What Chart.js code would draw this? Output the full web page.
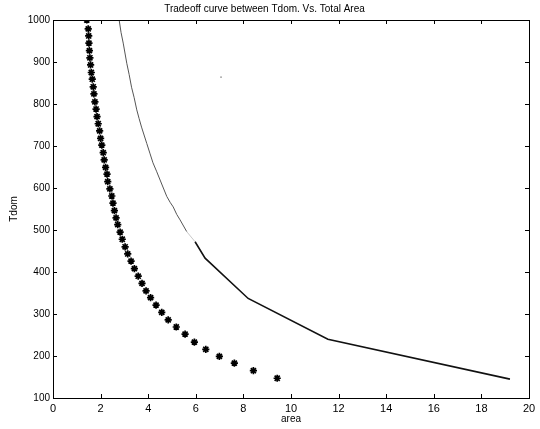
<!DOCTYPE html>
<html>
<head>
<meta charset="utf-8">
<script src="https://cdn.jsdelivr.net/npm/chart.js@4"></script>
<style>
  html, body { margin: 0; padding: 0; background: #fff; }
  #wrap { width: 540px; height: 429px; }
</style>
</head>
<body>
<div id="wrap"><canvas id="c" width="540" height="429"></canvas></div>
<script>
// ---- data ----
const starArea = [1.42,1.48,1.50,1.51,1.53,1.55,1.58,1.61,1.65,1.69,1.72,1.76,1.81,1.85,1.90,1.96,2.00,2.05,2.11,2.15,2.21,2.27,
                  2.30,2.39,2.47,2.52,2.58,2.65,2.72,2.82,2.91,3.03,3.14,3.28,3.42,3.58,3.74,3.91,4.10,4.33,4.57,4.84,5.18,5.55,5.94,6.42,6.99,7.62,8.42,9.42];
const starTdom = [1000,979,962,945,927,910,893,875,859,841,824,805,788,770,753,736,718,702,684,667,
                  649,633,615,598,581,564,546,529,513,495,478,460,443,426,408,390,373,355,339,321,
                  304,286,269,252,233,216,199,183,165,147];
const lineArea = [2.78,2.86,2.95,3.10,3.20,3.30,3.41,3.52,3.62,3.72,3.94,4.07,4.20,4.35,4.50,4.78,4.92,5.05,5.20,5.34,5.62,5.97,6.39,8.20,11.55,19.2];
const lineTdom = [1000,970,945,897,870,840,815,786,765,745,706,683,660,640,619,580,566,555,537,524,496,472,433,337,240,145];
const speckArea = [7.06];
const speckTdom = [864];
const xTicks = [0,2,4,6,8,10,12,14,16,18,20];
const yTicks = [100,200,300,400,500,600,700,800,900,1000];

const titleText = 'Tradeoff curve between Tdom. Vs. Total Area';
const xTitle = 'area';
const yTitle = 'Tdom';

const toXY = (xs, ys) => xs.map((v, i) => ({ x: v, y: ys[i] }));

const FONT = 'Liberation Sans, Arial, Helvetica, sans-serif';

const framePlugin = {
  id: 'frame',
  afterDraw(chart) {
    const { ctx, chartArea: { left, right, top, bottom }, scales: { x, y } } = chart;
    ctx.save();
    ctx.strokeStyle = '#000';
    ctx.lineWidth = 1;
    ctx.strokeRect(Math.round(left) + 0.5, Math.round(top) + 0.5, Math.round(right - left), Math.round(bottom - top));
    ctx.beginPath();
    x.ticks.forEach(t => {
      const px = Math.round(x.getPixelForValue(t.value)) + 0.5;
      ctx.moveTo(px, bottom); ctx.lineTo(px, bottom - 4);
      ctx.moveTo(px, top); ctx.lineTo(px, top + 4);
    });
    y.ticks.forEach(t => {
      const py = Math.round(y.getPixelForValue(t.value)) + 0.5;
      ctx.moveTo(left, py); ctx.lineTo(left + 4, py);
      ctx.moveTo(right, py); ctx.lineTo(right - 4, py);
    });
    ctx.stroke();
    ctx.restore();
  }
};

new Chart(document.getElementById('c'), {
  type: 'scatter',
  data: {
    datasets: [
      {
        label: 'curve',
        data: toXY(lineArea, lineTdom),
        showLine: true,
        pointRadius: 0,
        tension: 0,
        borderColor: '#111',
        borderWidth: 1.5,
        segment: {
          borderColor: ctx => {
            const y0 = ctx.p0.parsed.y;
            if (y0 === 496) return '#c8c8c8';
            return y0 > 480 ? '#555' : '#111';
          },
          borderWidth: ctx => (ctx.p0.parsed.y > 480 ? 1 : 1.6)
        }
      },
      {
        label: 'stars',
        data: toXY(starArea, starTdom),
        showLine: false,
        pointStyle: 'star',
        pointRadius: 3.6,
        pointBorderWidth: 1.7,
        pointBorderColor: '#000',
        pointBackgroundColor: '#000'
      },
      {
        label: 'speck',
        data: toXY(speckArea, speckTdom),
        showLine: false,
        pointStyle: 'rect',
        pointRadius: 1,
        pointBorderWidth: 0,
        pointBackgroundColor: '#777'
      }
    ]
  },
  options: {
    responsive: false,
    animation: false,
    devicePixelRatio: 1,
    layout: { padding: { left: 0, right: 11, top: 0, bottom: 0 } },
    plugins: {
      legend: { display: false },
      tooltip: { enabled: false },
      title: {
        display: true,
        text: titleText,
        color: '#000',
        font: { family: FONT, size: 10, weight: 'normal' },
        padding: { top: 3, bottom: 5 }
      }
    },
    scales: {
      x: {
        type: 'linear',
        min: 0, max: 20,
        afterBuildTicks: s => { s.ticks = xTicks.map(v => ({ value: v })); },
        afterFit: s => { s.height = 31; },
        grid: { display: false, drawTicks: false },
        border: { display: false },
        ticks: { color: '#000', font: { family: FONT, size: 11 }, padding: 4, maxRotation: 0, callback: v => String(v) },
        title: { display: true, text: xTitle, color: '#000', font: { family: FONT, size: 10 }, padding: { top: 0, bottom: 4 } }
      },
      y: {
        type: 'linear',
        min: 100, max: 1000,
        afterBuildTicks: s => { s.ticks = yTicks.map(v => ({ value: v })); },
        afterFit: s => { s.width = 53; },
        grid: { display: false, drawTicks: false },
        border: { display: false },
        ticks: { color: '#000', font: { family: FONT, size: 10 }, padding: 3, callback: v => String(v) },
        title: { display: true, text: yTitle, color: '#000', font: { family: FONT, size: 10 }, padding: { top: 8, bottom: 0 } }
      }
    }
  },
  plugins: [framePlugin]
});
</script>
</body>
</html>
